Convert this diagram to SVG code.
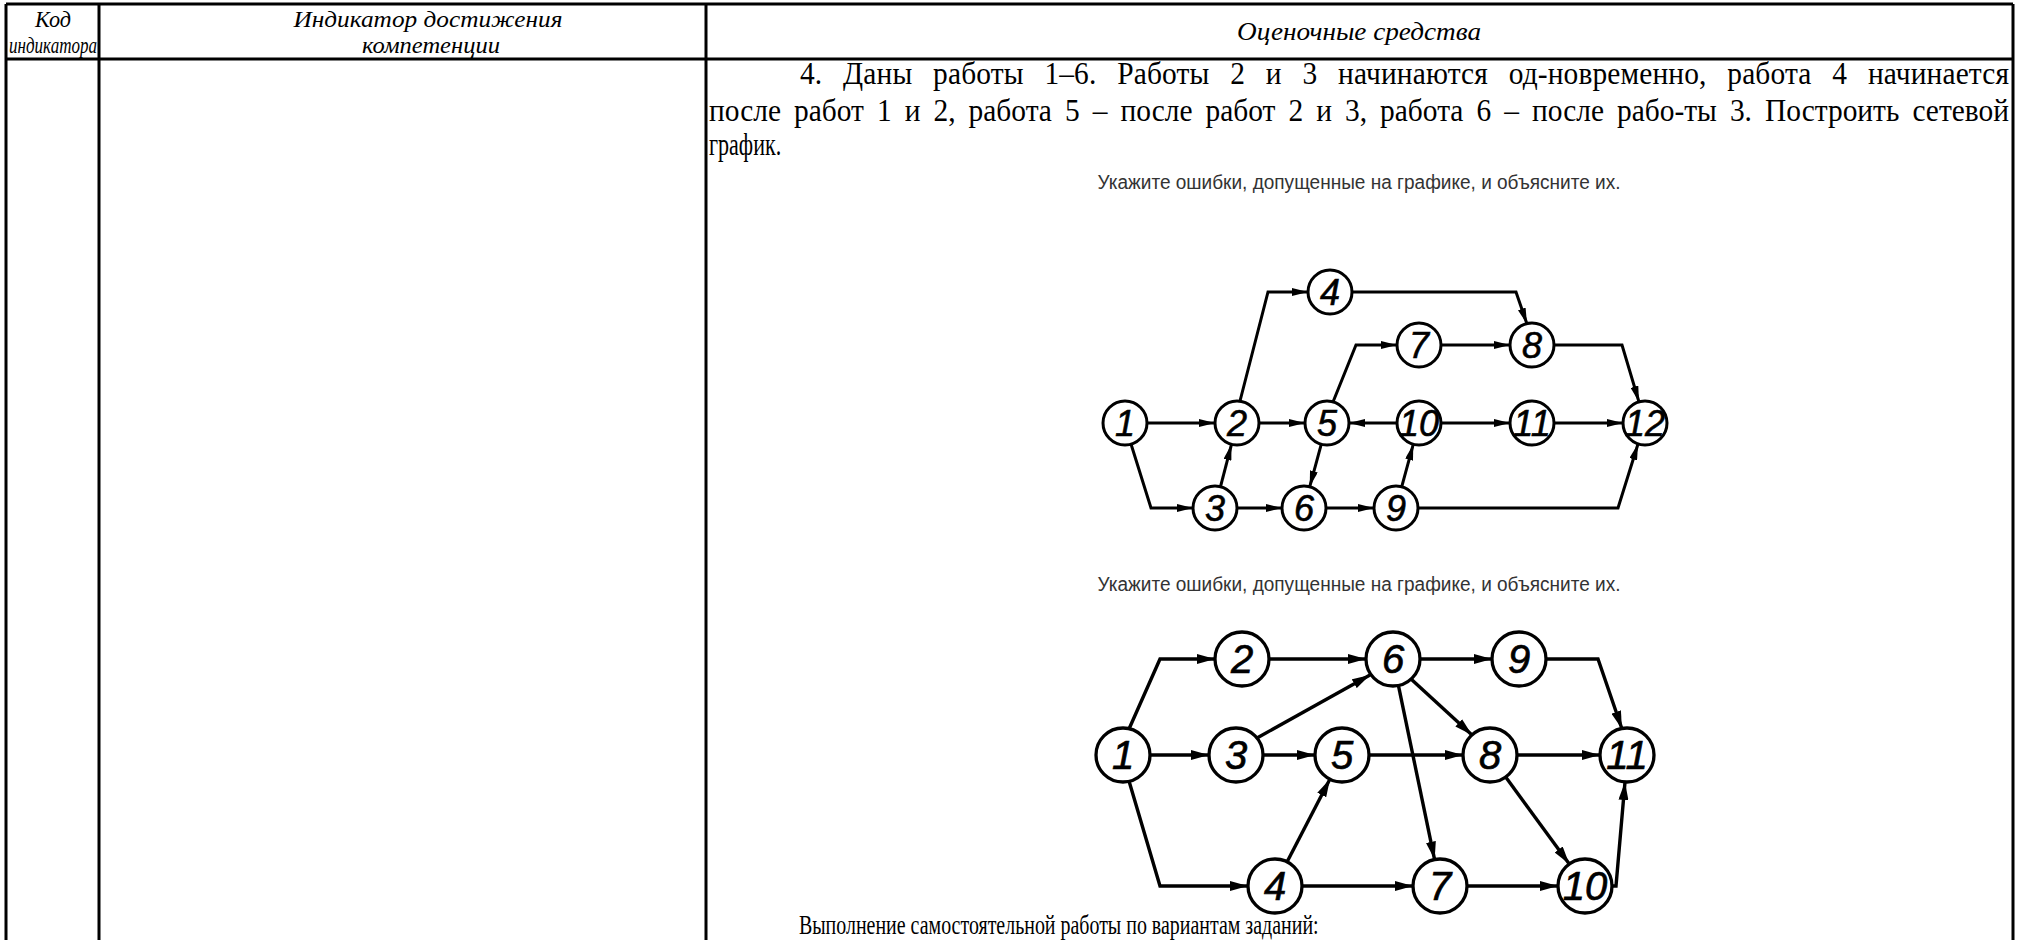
<svg xmlns="http://www.w3.org/2000/svg" width="2020" height="940" viewBox="0 0 2020 940">
<defs>
<style>
.grid{stroke:#000;stroke-width:3;fill:none}
.hd{font-family:"Liberation Serif","Times New Roman",serif;font-style:italic;font-size:23px;fill:#000}
.hd2{font-family:"Liberation Serif","Times New Roman",serif;font-style:italic;font-size:26px;fill:#000}
.bd{font-family:"Liberation Serif","Times New Roman",serif;font-size:31px;fill:#000}
.bd2{font-family:"Liberation Serif","Times New Roman",serif;font-size:27px;fill:#000}
.cap{font-family:"Liberation Sans",Arial,sans-serif;font-size:20px;fill:#333}
.n1 circle{fill:#fff;stroke:#000;stroke-width:3}
.n2 circle{fill:#fff;stroke:#000;stroke-width:3.3}
.n1 text{font-family:"Liberation Sans",Arial,sans-serif;font-style:italic;font-size:36px;text-anchor:middle;fill:#000;stroke:#000;stroke-width:0.6}
.n2 text{font-family:"Liberation Sans",Arial,sans-serif;font-style:italic;font-size:40px;text-anchor:middle;fill:#000;stroke:#000;stroke-width:0.7}
.e1 path{fill:none;stroke:#000;stroke-width:3;marker-end:url(#ar1)}
.e2 path{fill:none;stroke:#000;stroke-width:3.4;marker-end:url(#ar2)}
</style>
<marker id="ar1" viewBox="0 0 16 8" refX="16" refY="4" markerWidth="16" markerHeight="8" markerUnits="userSpaceOnUse" orient="auto"><path d="M0,0 L16,4 L0,8 z" fill="#000"/></marker>
<marker id="ar2" viewBox="0 0 18 10" refX="18" refY="5" markerWidth="18" markerHeight="10" markerUnits="userSpaceOnUse" orient="auto"><path d="M0,0 L18,5 L0,10 z" fill="#000"/></marker>
</defs>
<rect width="2020" height="940" fill="#fff"/>

<g id="table">
<path class="grid" d="M6,4 H2013 M6,59 H2013 M6,4 V940 M99,4 V940 M706,4 V940 M2013,4 V940"/>
<text class="hd" x="53" y="27" text-anchor="middle" textLength="36" lengthAdjust="spacingAndGlyphs">Код</text>
<text class="hd" x="53" y="53" text-anchor="middle" textLength="88" lengthAdjust="spacingAndGlyphs">индикатора</text>
<text class="hd" x="428" y="27" text-anchor="middle" textLength="269" lengthAdjust="spacingAndGlyphs">Индикатор достижения</text>
<text class="hd" x="431" y="53" text-anchor="middle" textLength="138" lengthAdjust="spacingAndGlyphs">компетенции</text>
<text class="hd2" x="1359" y="40" text-anchor="middle" textLength="244" lengthAdjust="spacingAndGlyphs">Оценочные средства</text>
</g>

<g id="task-text">
<g transform="scale(0.95,1)">
<text class="bd" x="842.1" y="84" word-spacing="14" textLength="1272.6" lengthAdjust="spacing">4. Даны работы 1–6. Работы 2 и 3 начинаются од-новременно, работа 4 начинается</text>
<text class="bd" x="746.3" y="121" word-spacing="6" textLength="1368.4" lengthAdjust="spacing">после работ 1 и 2, работа 5 – после работ 2 и 3, работа 6 – после рабо-ты 3. Построить сетевой</text>
<text class="bd" x="746.3" y="155" textLength="76" lengthAdjust="spacingAndGlyphs">график.</text>
<text class="bd2" x="841" y="934" textLength="547" lengthAdjust="spacingAndGlyphs">Выполнение самостоятельной работы  по вариантам заданий:</text>
</g>
<text class="cap" x="1359" y="189" text-anchor="middle" textLength="523" lengthAdjust="spacingAndGlyphs">Укажите ошибки, допущенные на графике, и объясните их.</text>
<text class="cap" x="1359" y="591" text-anchor="middle" textLength="523" lengthAdjust="spacingAndGlyphs">Укажите ошибки, допущенные на графике, и объясните их.</text>
</g>

<g id="graph1-connectors" class="e1">
<path d="M1147,423 H1215"/>
<path d="M1131,444 L1151,508 H1193"/>
<path d="M1220.5,486.7 L1231.5,444.3"/>
<path d="M1240,401 L1268,292 H1308"/>
<path d="M1259,423 H1305"/>
<path d="M1397,423 H1349"/>
<path d="M1333,402 L1356,345 H1397"/>
<path d="M1321.3,444.2 L1309.7,486.8"/>
<path d="M1237,508 H1282"/>
<path d="M1326,508 H1374"/>
<path d="M1401.7,486.8 L1413.3,444.2"/>
<path d="M1352,292 H1516 L1527,324"/>
<path d="M1441,345 H1510"/>
<path d="M1554,345 H1622 L1639,402"/>
<path d="M1441,423 H1510"/>
<path d="M1554,423 H1623"/>
<path d="M1418,508 H1618 L1638,444"/>
</g>

<g id="g1-n1" class="n1"><circle cx="1125" cy="423" r="22"/><text x="1125" y="436">1</text></g>
<g id="g1-n2" class="n1"><circle cx="1237" cy="423" r="22"/><text x="1237" y="436">2</text></g>
<g id="g1-n3" class="n1"><circle cx="1215" cy="508" r="22"/><text x="1215" y="521">3</text></g>
<g id="g1-n4" class="n1"><circle cx="1330" cy="292" r="22"/><text x="1330" y="305">4</text></g>
<g id="g1-n5" class="n1"><circle cx="1327" cy="423" r="22"/><text x="1327" y="436">5</text></g>
<g id="g1-n6" class="n1"><circle cx="1304" cy="508" r="22"/><text x="1304" y="521">6</text></g>
<g id="g1-n7" class="n1"><circle cx="1419" cy="345" r="22"/><text x="1419" y="358">7</text></g>
<g id="g1-n8" class="n1"><circle cx="1532" cy="345" r="22"/><text x="1532" y="358">8</text></g>
<g id="g1-n9" class="n1"><circle cx="1396" cy="508" r="22"/><text x="1396" y="521">9</text></g>
<g id="g1-n10" class="n1"><circle cx="1419" cy="423" r="22"/><text x="1419" y="436">10</text></g>
<g id="g1-n11" class="n1"><circle cx="1532" cy="423" r="22"/><text x="1532" y="436">11</text></g>
<g id="g1-n12" class="n1"><circle cx="1645" cy="423" r="22"/><text x="1645" y="436">12</text></g>

<g id="graph2-connectors" class="e2">
<path d="M1129,729 L1160,659 H1215"/>
<path d="M1150,755 H1209"/>
<path d="M1129,781 L1160,886 H1248"/>
<path d="M1269,659 H1366"/>
<path d="M1257,738 L1370,675"/>
<path d="M1263,755 H1315"/>
<path d="M1287,862 L1330,779"/>
<path d="M1302,886 H1413"/>
<path d="M1420,659 H1492"/>
<path d="M1411,679 L1472,735"/>
<path d="M1398.4,685.4 L1434.6,859.6"/>
<path d="M1369,755 H1463"/>
<path d="M1467,886 H1558"/>
<path d="M1517,755 H1600"/>
<path d="M1505.7,777 L1569.3,864"/>
<path d="M1546,659 H1598 L1622,729"/>
<path d="M1612,886 H1616 L1625,782"/>
</g>

<g id="g2-n1" class="n2"><circle cx="1123" cy="755" r="27"/><text x="1123" y="769">1</text></g>
<g id="g2-n2" class="n2"><circle cx="1242" cy="659" r="27"/><text x="1242" y="673">2</text></g>
<g id="g2-n3" class="n2"><circle cx="1236" cy="755" r="27"/><text x="1236" y="769">3</text></g>
<g id="g2-n4" class="n2"><circle cx="1275" cy="886" r="27"/><text x="1275" y="900">4</text></g>
<g id="g2-n5" class="n2"><circle cx="1342" cy="755" r="27"/><text x="1342" y="769">5</text></g>
<g id="g2-n6" class="n2"><circle cx="1393" cy="659" r="27"/><text x="1393" y="673">6</text></g>
<g id="g2-n7" class="n2"><circle cx="1440" cy="886" r="27"/><text x="1440" y="900">7</text></g>
<g id="g2-n8" class="n2"><circle cx="1490" cy="755" r="27"/><text x="1490" y="769">8</text></g>
<g id="g2-n9" class="n2"><circle cx="1519" cy="659" r="27"/><text x="1519" y="673">9</text></g>
<g id="g2-n10" class="n2"><circle cx="1585" cy="886" r="27"/><text x="1585" y="900">10</text></g>
<g id="g2-n11" class="n2"><circle cx="1627" cy="755" r="27"/><text x="1627" y="769">11</text></g>
</svg>
